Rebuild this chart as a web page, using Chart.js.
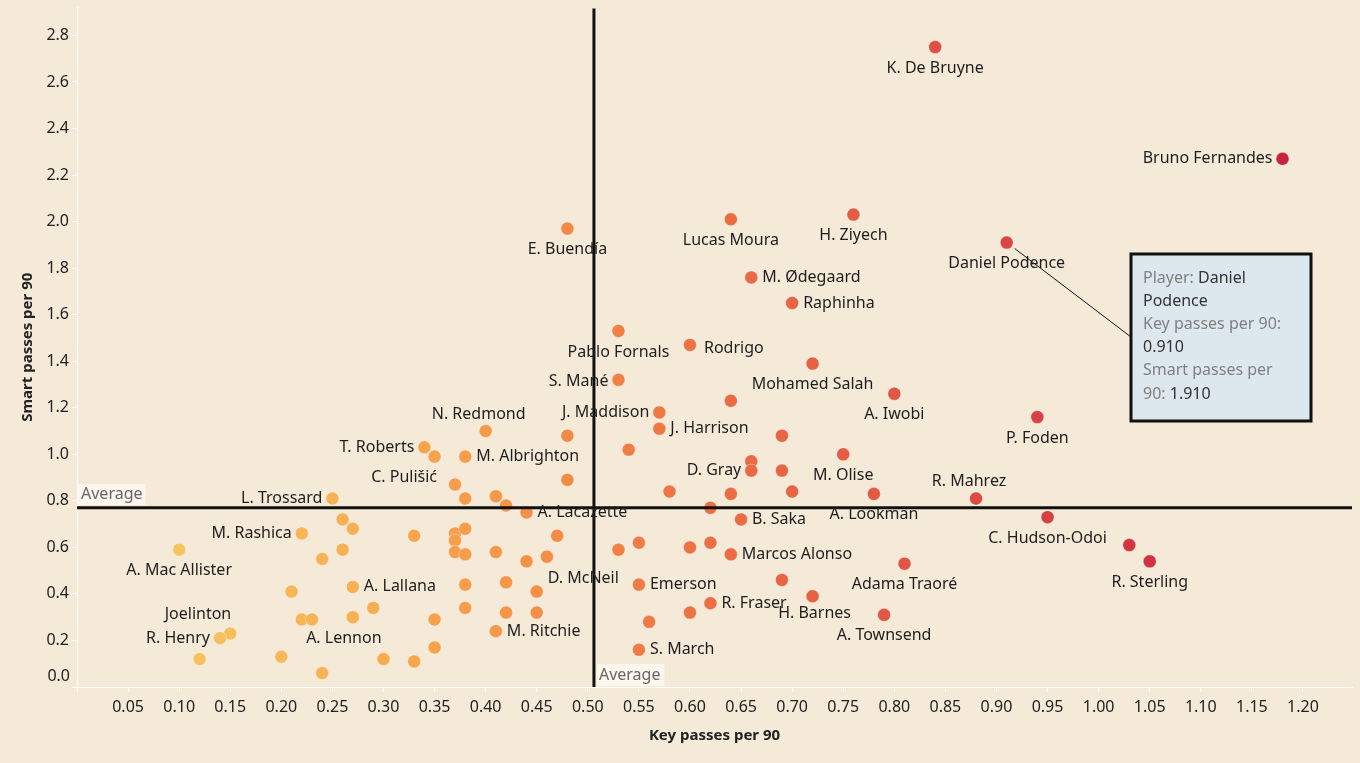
<!DOCTYPE html>
<html>
<head>
<meta charset="utf-8">
<script src="https://cdn.jsdelivr.net/npm/chart.js@4.4.1/dist/chart.umd.min.js"></script>
<style>
  html, body { margin: 0; padding: 0; background: #f5e9d8; }
  #wrap { width: 1360px; height: 763px; }
</style>
</head>
<body>
<div id="wrap"><canvas id="chart" width="1360" height="763"></canvas></div>
<script>
// --- data ---
const players = [
  'K. De Bruyne', 'Bruno Fernandes', 'Daniel Podence', 'H. Ziyech', 'Lucas Moura',
  'E. Buendía', 'M. Ødegaard', 'Raphinha', 'Pablo Fornals', 'Rodrigo',
  'S. Mané', 'Mohamed Salah', '', 'A. Iwobi', 'P. Foden',
  'J. Maddison', 'J. Harrison', '', '', '',
  'N. Redmond', 'T. Roberts', '', 'M. Albrighton', '',
  'C. Pulišić', 'M. Olise', '', 'D. Gray', '',
  '', '', '', 'A. Lookman', 'R. Mahrez',
  'C. Hudson-Odoi', '', 'R. Sterling', 'Adama Traoré', '',
  'B. Saka', '', '', '', '',
  'Marcos Alonso', '', 'H. Barnes', 'A. Townsend', 'Emerson',
  'R. Fraser', '', '', 'S. March', 'L. Trossard',
  '', '', '', 'A. Lacazette', '',
  '', 'M. Rashica', '', '', '',
  '', '', '', '', '',
  '', '', '', '', 'A. Lallana',
  '', '', 'D. McNeil', '', '',
  '', '', '', '', 'A. Lennon',
  '', 'M. Ritchie', '', '', '',
  '', 'A. Mac Allister', '', 'Joelinton', 'R. Henry',
  '', ''
];
const keyPasses = [
  0.84, 1.18, 0.91, 0.76, 0.64,
  0.48, 0.66, 0.70, 0.53, 0.60,
  0.53, 0.72, 0.64, 0.80, 0.94,
  0.57, 0.57, 0.69, 0.54, 0.48,
  0.40, 0.34, 0.35, 0.38, 0.48,
  0.37, 0.75, 0.66, 0.66, 0.69,
  0.58, 0.64, 0.70, 0.78, 0.88,
  0.95, 1.03, 1.05, 0.81, 0.62,
  0.65, 0.53, 0.55, 0.60, 0.62,
  0.64, 0.69, 0.72, 0.79, 0.55,
  0.62, 0.60, 0.56, 0.55, 0.25,
  0.38, 0.41, 0.42, 0.44, 0.26,
  0.27, 0.22, 0.33, 0.37, 0.38,
  0.37, 0.47, 0.26, 0.37, 0.38,
  0.41, 0.46, 0.44, 0.24, 0.27,
  0.38, 0.42, 0.45, 0.29, 0.38,
  0.42, 0.45, 0.22, 0.23, 0.27,
  0.35, 0.41, 0.35, 0.30, 0.33,
  0.24, 0.10, 0.21, 0.15, 0.14,
  0.12, 0.20
];
const smartPasses = [
  2.75, 2.27, 1.91, 2.03, 2.01,
  1.97, 1.76, 1.65, 1.53, 1.47,
  1.32, 1.39, 1.23, 1.26, 1.16,
  1.18, 1.11, 1.08, 1.02, 1.08,
  1.10, 1.03, 0.99, 0.99, 0.89,
  0.87, 1.00, 0.97, 0.93, 0.93,
  0.84, 0.83, 0.84, 0.83, 0.81,
  0.73, 0.61, 0.54, 0.53, 0.77,
  0.72, 0.59, 0.62, 0.60, 0.62,
  0.57, 0.46, 0.39, 0.31, 0.44,
  0.36, 0.32, 0.28, 0.16, 0.81,
  0.81, 0.82, 0.78, 0.75, 0.72,
  0.68, 0.66, 0.65, 0.66, 0.68,
  0.63, 0.65, 0.59, 0.58, 0.57,
  0.58, 0.56, 0.54, 0.55, 0.43,
  0.44, 0.45, 0.41, 0.34, 0.34,
  0.32, 0.32, 0.29, 0.29, 0.30,
  0.29, 0.24, 0.17, 0.12, 0.11,
  0.06, 0.59, 0.41, 0.23, 0.21,
  0.12, 0.13
];
const avgKeyPasses = 0.506;
const avgSmartPasses = 0.77;
const highlighted = 'Daniel Podence';

// --- styles ---
const FONT = "'Noto Sans', 'Open Sans', sans-serif";
const colourStops = [
  [0.10, [247, 196, 96]],
  [0.30, [247, 172, 80]],
  [0.45, [245, 143, 70]],
  [0.60, [237, 114, 68]],
  [0.80, [225, 86, 68]],
  [1.00, [211, 56, 66]],
  [1.20, [196, 36, 60]]
];
function colourFor(v) {
  if (v <= colourStops[0][0]) return 'rgb(' + colourStops[0][1].join(',') + ')';
  for (let i = 1; i < colourStops.length; i++) {
    const [x1, c1] = colourStops[i];
    const [x0, c0] = colourStops[i - 1];
    if (v <= x1) {
      const t = (v - x0) / (x1 - x0);
      const c = c0.map((a, k) => Math.round(a + (c1[k] - a) * t));
      return 'rgb(' + c.join(',') + ')';
    }
  }
  return 'rgb(' + colourStops[colourStops.length - 1][1].join(',') + ')';
}

// label placement: b = below, a = above, r = right, l = left, al = above, right-aligned
const labelPlace = {
  'K. De Bruyne': ['b'], 'Bruno Fernandes': ['l'], 'Daniel Podence': ['b'],
  'H. Ziyech': ['b'], 'Lucas Moura': ['b'], 'E. Buendía': ['b'],
  'M. Ødegaard': ['r'], 'Raphinha': ['r'], 'Pablo Fornals': ['b'],
  'Rodrigo': ['r', 3, 4], 'S. Mané': ['l', 0, 2], 'Mohamed Salah': ['b'],
  'A. Iwobi': ['b'], 'P. Foden': ['b'], 'J. Maddison': ['l'],
  'J. Harrison': ['r'], 'N. Redmond': ['a', -7], 'T. Roberts': ['l'],
  'M. Albrighton': ['r'], 'C. Pulišić': ['l', -8, -7], 'M. Olise': ['b'],
  'D. Gray': ['l'], 'A. Lookman': ['b'], 'R. Mahrez': ['a', -7],
  'C. Hudson-Odoi': ['b'], 'R. Sterling': ['b'], 'Adama Traoré': ['b'],
  'B. Saka': ['r'], 'Marcos Alonso': ['r'], 'H. Barnes': ['b', 2, -4],
  'A. Townsend': ['b'], 'Emerson': ['r'], 'R. Fraser': ['r'],
  'S. March': ['r'], 'L. Trossard': ['l'], 'A. Lacazette': ['r'],
  'M. Rashica': ['l'], 'A. Lallana': ['r'], 'D. McNeil': ['r', 0, -13],
  'A. Lennon': ['b', -9], 'M. Ritchie': ['r'], 'A. Mac Allister': ['b'],
  'Joelinton': ['al'], 'R. Henry': ['l']
};

const labelPlugin = {
  id: 'pointLabels',
  afterDatasetsDraw(chart) {
    const ctx = chart.ctx;
    const meta = chart.getDatasetMeta(0);
    ctx.save();
    ctx.font = '16px ' + FONT;
    ctx.fillStyle = '#1e1e1e';
    players.forEach((name, i) => {
      if (!name) return;
      const p = meta.data[i];
      const [mode, dx = 0, dy = 0] = labelPlace[name] || ['r'];
      let x = p.x, y = p.y;
      ctx.textBaseline = 'middle';
      if (mode === 'b') { ctx.textAlign = 'center'; y += 21; }
      else if (mode === 'a') { ctx.textAlign = 'center'; y -= 17; }
      else if (mode === 'r') { ctx.textAlign = 'left'; x += 11; }
      else if (mode === 'l') { ctx.textAlign = 'right'; x -= 10; }
      else if (mode === 'al') { ctx.textAlign = 'right'; x += 1; y -= 19; }
      ctx.fillText(name, x + dx, y + dy);
    });
    ctx.restore();
  }
};

const averagePlugin = {
  id: 'averages',
  afterDatasetsDraw(chart) {
    const ctx = chart.ctx;
    const area = chart.chartArea;
    const xs = chart.scales.x, ys = chart.scales.y;
    const ax = xs.getPixelForValue(avgKeyPasses);
    const ay = ys.getPixelForValue(avgSmartPasses);
    ctx.save();
    ctx.strokeStyle = '#111';
    ctx.lineWidth = 3;
    ctx.beginPath();
    ctx.moveTo(ax, area.top + 1); ctx.lineTo(ax, area.bottom);
    ctx.moveTo(area.left, ay); ctx.lineTo(area.right, ay);
    ctx.stroke();

    ctx.font = '16px ' + FONT;
    ctx.textBaseline = 'middle';
    ctx.textAlign = 'left';
    const w = ctx.measureText('Average').width + 6;
    // horizontal line label
    ctx.fillStyle = 'rgba(255,250,244,0.75)';
    ctx.fillRect(area.left + 1, ay - 24, w, 21);
    ctx.fillStyle = '#666';
    ctx.fillText('Average', area.left + 4, ay - 13);
    // vertical line label
    ctx.fillStyle = 'rgba(255,250,244,0.75)';
    ctx.fillRect(ax + 3, area.bottom - 23, w, 22);
    ctx.fillStyle = '#666';
    ctx.fillText('Average', ax + 5, area.bottom - 12);
    ctx.restore();
  }
};

const calloutPlugin = {
  id: 'callout',
  afterDraw(chart) {
    const i = players.indexOf(highlighted);
    if (i < 0) return;
    const ctx = chart.ctx;
    const p = chart.getDatasetMeta(0).data[i];
    const bx = 1131, by = 254, bw = 180, bh = 167;
    ctx.save();
    ctx.strokeStyle = '#111';
    ctx.lineWidth = 1;
    ctx.beginPath();
    ctx.moveTo(p.x + 8, p.y + 6);
    ctx.lineTo(bx, by + 83);
    ctx.stroke();
    ctx.fillStyle = '#dde8ee';
    ctx.fillRect(bx, by, bw, bh);
    ctx.lineWidth = 3;
    ctx.strokeRect(bx, by, bw, bh);

    ctx.font = '16px ' + FONT;
    ctx.textBaseline = 'middle';
    ctx.textAlign = 'left';
    const lines = [
      [['Player: ', '#808080'], ['Daniel', '#333']],
      [['Podence', '#333']],
      [['Key passes per 90:', '#808080']],
      [[keyPasses[i].toFixed(3), '#333']],
      [['Smart passes per', '#808080']],
      [['90: ', '#808080'], [smartPasses[i].toFixed(3), '#333']]
    ];
    lines.forEach((parts, k) => {
      let x = bx + 12;
      const y = by + 24 + k * 23.2;
      parts.forEach(([t, c]) => {
        ctx.fillStyle = c;
        ctx.fillText(t, x, y);
        x += ctx.measureText(t).width;
      });
    });
    // y axis zero label, lifted like the original axis
    ctx.font = '16px ' + FONT;
    ctx.fillStyle = '#222';
    ctx.textAlign = 'right';
    ctx.fillText('0.0', 70, 676);
    ctx.restore();
  }
};

const ctx = document.getElementById('chart').getContext('2d');
new Chart(ctx, {
  type: 'scatter',
  data: {
    datasets: [{
      data: keyPasses.map((x, i) => ({ x: x, y: smartPasses[i] })),
      pointRadius: 6.5,
      pointHoverRadius: 6.5,
      pointBackgroundColor: keyPasses.map(colourFor),
      pointBorderColor: 'rgba(255,255,255,0.35)',
      pointBorderWidth: 1
    }]
  },
  options: {
    responsive: false,
    animation: false,
    devicePixelRatio: 1,
    layout: { padding: { top: 7, right: 8, left: 0, bottom: 0 } },
    plugins: {
      legend: { display: false },
      tooltip: { enabled: false }
    },
    scales: {
      x: {
        type: 'linear',
        min: 0,
        max: 1.248,
        afterFit(scale) { scale.height = 76; scale.paddingLeft = 0; scale.paddingRight = 0; },
        grid: { drawOnChartArea: false, drawTicks: true, tickLength: 5, color: '#ffffff' },
        border: { display: true, color: '#ffffff', width: 1 },
        ticks: {
          stepSize: 0.05,
          includeBounds: false,
          autoSkip: false,
          maxRotation: 0,
          padding: 6,
          color: '#222',
          font: { family: FONT, size: 16 },
          callback: v => (v < 0.001 || v > 1.24) ? '' : v.toFixed(2)
        },
        title: {
          display: true,
          text: 'Key passes per 90',
          color: '#222',
          font: { family: FONT, size: 15, weight: 'bold' },
          padding: { top: 0, bottom: 18 }
        }
      },
      y: {
        type: 'linear',
        min: 0,
        max: 2.92,
        afterFit(scale) { scale.width = 77; scale.paddingTop = 0; scale.paddingBottom = 0; },
        grid: { drawOnChartArea: false, drawTicks: true, tickLength: 5, color: '#ffffff' },
        border: { display: true, color: '#ffffff', width: 1 },
        ticks: {
          stepSize: 0.2,
          includeBounds: false,
          padding: 3,
          color: '#222',
          font: { family: FONT, size: 16 },
          callback: v => v < 0.01 ? '' : v.toFixed(1)
        },
        title: {
          display: true,
          text: 'Smart passes per 90',
          color: '#222',
          font: { family: FONT, size: 15, weight: 'bold' },
          padding: { top: 19, bottom: 0 }
        }
      }
    }
  },
  plugins: [averagePlugin, labelPlugin, calloutPlugin]
});
</script>
</body>
</html>
